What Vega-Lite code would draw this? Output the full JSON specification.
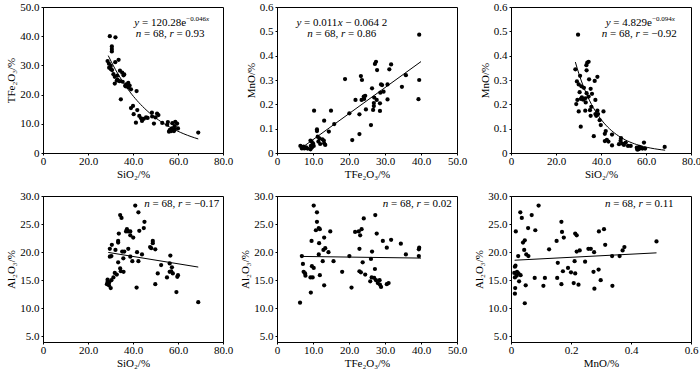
{
  "$schema": "https://vega.github.io/schema/vega-lite/v6.json",
  "padding": {"left": 5, "top": 0, "right": 0, "bottom": 2},
  "config": {
    "font": "Liberation Serif",
    "view": {"stroke": "black", "strokeWidth": 1},
    "axis": {"grid": false, "domainColor": "black", "tickColor": "black", "labelColor": "black", "titleColor": "black", "labelFontSize": 11, "titleFontSize": 11, "titleFontWeight": "normal", "tickSize": 2, "tickCount": 20, "labelFlush": false, "labelOverlap": false, "labelFont": "Liberation Serif", "titleFont": "Liberation Serif", "labelExpr": "datum.value == 0 ? '0' : format(datum.value, '.1f')"},
    "axisX": {"titlePadding": 2, "labelPadding": 0},
    "axisY": {"titlePadding": 3, "labelPadding": 2},
    "text": {"font": "Liberation Serif", "fontSize": 11, "color": "black", "align": "left", "baseline": "middle"},
    "point": {"filled": true, "color": "black", "size": 18, "opacity": 1},
    "line": {"color": "black", "strokeWidth": 1}
  },
  "datasets": {
    "one": [{}],
    "p1": [
      {"SiO2": 29.7, "TFe2O3": 40.0}, {"SiO2": 32.2, "TFe2O3": 39.6}, {"SiO2": 30.6, "TFe2O3": 36.5}, {"SiO2": 30.6, "TFe2O3": 35.6}, {"SiO2": 30.6, "TFe2O3": 34.8},
      {"SiO2": 28.7, "TFe2O3": 31.5}, {"SiO2": 33.6, "TFe2O3": 31.9}, {"SiO2": 32.1, "TFe2O3": 31.1}, {"SiO2": 29.3, "TFe2O3": 30.6}, {"SiO2": 30.1, "TFe2O3": 29.8},
      {"SiO2": 29.4, "TFe2O3": 29.2}, {"SiO2": 30.7, "TFe2O3": 28.4}, {"SiO2": 34.2, "TFe2O3": 28.2}, {"SiO2": 35.2, "TFe2O3": 27.5}, {"SiO2": 36.1, "TFe2O3": 26.9},
      {"SiO2": 31.3, "TFe2O3": 27.0}, {"SiO2": 31.9, "TFe2O3": 26.1}, {"SiO2": 33.1, "TFe2O3": 25.1}, {"SiO2": 34.0, "TFe2O3": 24.6}, {"SiO2": 31.9, "TFe2O3": 23.8},
      {"SiO2": 35.4, "TFe2O3": 24.4}, {"SiO2": 37.0, "TFe2O3": 23.5}, {"SiO2": 37.9, "TFe2O3": 24.0}, {"SiO2": 38.5, "TFe2O3": 23.1}, {"SiO2": 36.9, "TFe2O3": 22.8},
      {"SiO2": 39.1, "TFe2O3": 21.8}, {"SiO2": 41.6, "TFe2O3": 21.2}, {"SiO2": 34.6, "TFe2O3": 18.4}, {"SiO2": 39.1, "TFe2O3": 15.4}, {"SiO2": 40.0, "TFe2O3": 16.1},
      {"SiO2": 41.9, "TFe2O3": 14.7}, {"SiO2": 40.3, "TFe2O3": 13.3}, {"SiO2": 42.8, "TFe2O3": 12.7}, {"SiO2": 41.3, "TFe2O3": 10.4}, {"SiO2": 43.6, "TFe2O3": 11.9},
      {"SiO2": 44.8, "TFe2O3": 11.7}, {"SiO2": 45.8, "TFe2O3": 12.2}, {"SiO2": 48.4, "TFe2O3": 13.8}, {"SiO2": 50.0, "TFe2O3": 12.2}, {"SiO2": 50.7, "TFe2O3": 13.5},
      {"SiO2": 51.3, "TFe2O3": 13.0}, {"SiO2": 49.3, "TFe2O3": 10.1}, {"SiO2": 53.0, "TFe2O3": 10.3}, {"SiO2": 55.2, "TFe2O3": 9.7}, {"SiO2": 55.5, "TFe2O3": 10.6},
      {"SiO2": 58.5, "TFe2O3": 9.2}, {"SiO2": 57.3, "TFe2O3": 8.4}, {"SiO2": 57.8, "TFe2O3": 7.8}, {"SiO2": 58.2, "TFe2O3": 7.5}, {"SiO2": 57.0, "TFe2O3": 7.5},
      {"SiO2": 56.7, "TFe2O3": 8.0}, {"SiO2": 58.5, "TFe2O3": 8.0}, {"SiO2": 59.6, "TFe2O3": 10.1}, {"SiO2": 60.0, "TFe2O3": 8.4}, {"SiO2": 58.8, "TFe2O3": 10.7},
      {"SiO2": 69.0, "TFe2O3": 7.0}, {"SiO2": 30.2, "TFe2O3": 28.7}, {"SiO2": 32.8, "TFe2O3": 24.8}, {"SiO2": 36.5, "TFe2O3": 23.0}, {"SiO2": 38.0, "TFe2O3": 22.5},
      {"SiO2": 33.0, "TFe2O3": 26.5}, {"SiO2": 35.8, "TFe2O3": 26.6}, {"SiO2": 46.5, "TFe2O3": 12.0}, {"SiO2": 44.0, "TFe2O3": 11.0}, {"SiO2": 48.5, "TFe2O3": 12.5},
      {"SiO2": 56.3, "TFe2O3": 7.8}, {"SiO2": 57.5, "TFe2O3": 10.2}, {"SiO2": 56.0, "TFe2O3": 7.3}
    ],
    "p2": [
      {"TFe2O3": 6.5, "MnO": 0.029}, {"TFe2O3": 7.0, "MnO": 0.023}, {"TFe2O3": 7.6, "MnO": 0.019}, {"TFe2O3": 6.9, "MnO": 0.019}, {"TFe2O3": 8.1, "MnO": 0.023},
      {"TFe2O3": 7.4, "MnO": 0.026}, {"TFe2O3": 9.3, "MnO": 0.051}, {"TFe2O3": 9.6, "MnO": 0.047}, {"TFe2O3": 9.4, "MnO": 0.029}, {"TFe2O3": 9.7, "MnO": 0.023},
      {"TFe2O3": 10.2, "MnO": 0.029}, {"TFe2O3": 9.3, "MnO": 0.015}, {"TFe2O3": 10.3, "MnO": 0.174}, {"TFe2O3": 11.1, "MnO": 0.090}, {"TFe2O3": 11.1, "MnO": 0.097},
      {"TFe2O3": 11.3, "MnO": 0.067}, {"TFe2O3": 11.8, "MnO": 0.060}, {"TFe2O3": 11.5, "MnO": 0.047}, {"TFe2O3": 12.0, "MnO": 0.037}, {"TFe2O3": 12.6, "MnO": 0.056},
      {"TFe2O3": 13.0, "MnO": 0.051}, {"TFe2O3": 13.1, "MnO": 0.040}, {"TFe2O3": 13.4, "MnO": 0.033}, {"TFe2O3": 13.1, "MnO": 0.133}, {"TFe2O3": 14.4, "MnO": 0.088},
      {"TFe2O3": 15.0, "MnO": 0.174}, {"TFe2O3": 15.9, "MnO": 0.119}, {"TFe2O3": 18.9, "MnO": 0.304}, {"TFe2O3": 20.1, "MnO": 0.163}, {"TFe2O3": 20.9, "MnO": 0.053},
      {"TFe2O3": 21.8, "MnO": 0.218}, {"TFe2O3": 22.9, "MnO": 0.078}, {"TFe2O3": 22.9, "MnO": 0.159}, {"TFe2O3": 23.3, "MnO": 0.316}, {"TFe2O3": 23.6, "MnO": 0.300},
      {"TFe2O3": 23.5, "MnO": 0.218}, {"TFe2O3": 24.1, "MnO": 0.232}, {"TFe2O3": 24.7, "MnO": 0.179}, {"TFe2O3": 24.2, "MnO": 0.222}, {"TFe2O3": 26.1, "MnO": 0.115},
      {"TFe2O3": 26.4, "MnO": 0.266}, {"TFe2O3": 26.9, "MnO": 0.193}, {"TFe2O3": 26.7, "MnO": 0.177}, {"TFe2O3": 27.5, "MnO": 0.375}, {"TFe2O3": 27.2, "MnO": 0.366},
      {"TFe2O3": 27.8, "MnO": 0.341}, {"TFe2O3": 27.7, "MnO": 0.218}, {"TFe2O3": 28.7, "MnO": 0.248}, {"TFe2O3": 31.7, "MnO": 0.364}, {"TFe2O3": 31.2, "MnO": 0.344},
      {"TFe2O3": 35.8, "MnO": 0.320}, {"TFe2O3": 28.9, "MnO": 0.282}, {"TFe2O3": 29.2, "MnO": 0.279}, {"TFe2O3": 30.7, "MnO": 0.282}, {"TFe2O3": 29.6, "MnO": 0.252},
      {"TFe2O3": 34.7, "MnO": 0.272}, {"TFe2O3": 30.7, "MnO": 0.220}, {"TFe2O3": 28.6, "MnO": 0.204}, {"TFe2O3": 28.6, "MnO": 0.173}, {"TFe2O3": 39.5, "MnO": 0.486},
      {"TFe2O3": 39.5, "MnO": 0.300}, {"TFe2O3": 39.3, "MnO": 0.221}, {"TFe2O3": 27.0, "MnO": 0.228}, {"TFe2O3": 8.5, "MnO": 0.018}, {"TFe2O3": 24.5, "MnO": 0.235},
      {"TFe2O3": 10.0, "MnO": 0.040}, {"TFe2O3": 26.9, "MnO": 0.205}
    ],
    "p3": [
      {"SiO2": 29.8, "MnO": 0.486}, {"SiO2": 33.9, "MnO": 0.371}, {"SiO2": 34.5, "MnO": 0.375}, {"SiO2": 33.5, "MnO": 0.361}, {"SiO2": 33.6, "MnO": 0.340},
      {"SiO2": 28.6, "MnO": 0.344}, {"SiO2": 34.7, "MnO": 0.303}, {"SiO2": 37.2, "MnO": 0.296}, {"SiO2": 38.4, "MnO": 0.313}, {"SiO2": 30.7, "MnO": 0.317},
      {"SiO2": 29.3, "MnO": 0.294}, {"SiO2": 30.1, "MnO": 0.282}, {"SiO2": 31.3, "MnO": 0.274}, {"SiO2": 32.4, "MnO": 0.268}, {"SiO2": 35.4, "MnO": 0.264},
      {"SiO2": 30.5, "MnO": 0.250}, {"SiO2": 33.6, "MnO": 0.246}, {"SiO2": 31.5, "MnO": 0.229}, {"SiO2": 33.0, "MnO": 0.225}, {"SiO2": 31.1, "MnO": 0.222},
      {"SiO2": 32.1, "MnO": 0.219}, {"SiO2": 34.5, "MnO": 0.232}, {"SiO2": 36.0, "MnO": 0.243}, {"SiO2": 37.5, "MnO": 0.218}, {"SiO2": 29.5, "MnO": 0.218},
      {"SiO2": 29.0, "MnO": 0.201}, {"SiO2": 33.2, "MnO": 0.208}, {"SiO2": 35.7, "MnO": 0.190}, {"SiO2": 35.1, "MnO": 0.176}, {"SiO2": 30.1, "MnO": 0.171},
      {"SiO2": 33.0, "MnO": 0.174}, {"SiO2": 38.4, "MnO": 0.174}, {"SiO2": 41.1, "MnO": 0.171}, {"SiO2": 37.5, "MnO": 0.160}, {"SiO2": 35.4, "MnO": 0.153},
      {"SiO2": 38.7, "MnO": 0.160}, {"SiO2": 37.9, "MnO": 0.153}, {"SiO2": 39.4, "MnO": 0.135}, {"SiO2": 39.9, "MnO": 0.115}, {"SiO2": 31.0, "MnO": 0.108},
      {"SiO2": 42.1, "MnO": 0.090}, {"SiO2": 41.7, "MnO": 0.079}, {"SiO2": 36.8, "MnO": 0.069}, {"SiO2": 44.9, "MnO": 0.076}, {"SiO2": 41.7, "MnO": 0.049},
      {"SiO2": 42.6, "MnO": 0.054}, {"SiO2": 43.3, "MnO": 0.047}, {"SiO2": 44.9, "MnO": 0.031}, {"SiO2": 48.7, "MnO": 0.050}, {"SiO2": 48.9, "MnO": 0.061},
      {"SiO2": 51.0, "MnO": 0.043}, {"SiO2": 50.2, "MnO": 0.033}, {"SiO2": 52.0, "MnO": 0.029}, {"SiO2": 53.2, "MnO": 0.029}, {"SiO2": 49.5, "MnO": 0.039},
      {"SiO2": 48.0, "MnO": 0.036}, {"SiO2": 55.9, "MnO": 0.022}, {"SiO2": 56.6, "MnO": 0.015}, {"SiO2": 57.2, "MnO": 0.018}, {"SiO2": 57.8, "MnO": 0.022},
      {"SiO2": 58.4, "MnO": 0.018}, {"SiO2": 59.1, "MnO": 0.043}, {"SiO2": 59.6, "MnO": 0.018}, {"SiO2": 56.1, "MnO": 0.014}, {"SiO2": 68.3, "MnO": 0.025},
      {"SiO2": 57.0, "MnO": 0.025}
    ],
    "p4": [
      {"SiO2": 41.0, "Al2O3": 28.3}, {"SiO2": 42.4, "Al2O3": 27.1}, {"SiO2": 34.3, "Al2O3": 26.6}, {"SiO2": 34.9, "Al2O3": 26.1}, {"SiO2": 45.1, "Al2O3": 25.4},
      {"SiO2": 44.8, "Al2O3": 24.3}, {"SiO2": 42.8, "Al2O3": 23.8}, {"SiO2": 37.3, "Al2O3": 24.1}, {"SiO2": 37.9, "Al2O3": 23.7}, {"SiO2": 38.8, "Al2O3": 23.7},
      {"SiO2": 36.9, "Al2O3": 23.7}, {"SiO2": 38.8, "Al2O3": 23.0}, {"SiO2": 40.1, "Al2O3": 22.6}, {"SiO2": 33.7, "Al2O3": 23.3}, {"SiO2": 33.4, "Al2O3": 22.0},
      {"SiO2": 33.4, "Al2O3": 21.7}, {"SiO2": 30.6, "Al2O3": 21.3}, {"SiO2": 29.7, "Al2O3": 20.6}, {"SiO2": 32.2, "Al2O3": 20.4}, {"SiO2": 35.2, "Al2O3": 20.1},
      {"SiO2": 36.1, "Al2O3": 20.1}, {"SiO2": 37.9, "Al2O3": 20.6}, {"SiO2": 41.8, "Al2O3": 20.0}, {"SiO2": 29.7, "Al2O3": 19.2}, {"SiO2": 30.4, "Al2O3": 19.3},
      {"SiO2": 33.4, "Al2O3": 18.2}, {"SiO2": 35.7, "Al2O3": 18.9}, {"SiO2": 38.8, "Al2O3": 19.2}, {"SiO2": 39.7, "Al2O3": 18.4}, {"SiO2": 42.4, "Al2O3": 18.4},
      {"SiO2": 44.0, "Al2O3": 19.6}, {"SiO2": 31.9, "Al2O3": 16.3}, {"SiO2": 32.8, "Al2O3": 16.0}, {"SiO2": 34.3, "Al2O3": 17.1}, {"SiO2": 34.6, "Al2O3": 16.6},
      {"SiO2": 35.8, "Al2O3": 16.5}, {"SiO2": 31.3, "Al2O3": 15.5}, {"SiO2": 30.4, "Al2O3": 15.0}, {"SiO2": 28.7, "Al2O3": 14.7}, {"SiO2": 29.4, "Al2O3": 14.6},
      {"SiO2": 28.4, "Al2O3": 14.3}, {"SiO2": 29.3, "Al2O3": 14.1}, {"SiO2": 30.1, "Al2O3": 13.6}, {"SiO2": 28.7, "Al2O3": 15.1}, {"SiO2": 41.6, "Al2O3": 13.7},
      {"SiO2": 47.6, "Al2O3": 20.9}, {"SiO2": 48.8, "Al2O3": 22.0}, {"SiO2": 48.8, "Al2O3": 21.6}, {"SiO2": 49.9, "Al2O3": 20.5}, {"SiO2": 49.9, "Al2O3": 14.3},
      {"SiO2": 51.0, "Al2O3": 16.2}, {"SiO2": 52.5, "Al2O3": 17.7}, {"SiO2": 55.1, "Al2O3": 15.5}, {"SiO2": 56.3, "Al2O3": 18.0}, {"SiO2": 56.6, "Al2O3": 19.4},
      {"SiO2": 57.0, "Al2O3": 16.6}, {"SiO2": 57.3, "Al2O3": 17.3}, {"SiO2": 57.7, "Al2O3": 16.2}, {"SiO2": 56.3, "Al2O3": 16.5}, {"SiO2": 59.7, "Al2O3": 15.6},
      {"SiO2": 60.0, "Al2O3": 15.9}, {"SiO2": 59.3, "Al2O3": 12.9}, {"SiO2": 69.0, "Al2O3": 11.1}, {"SiO2": 48.1, "Al2O3": 20.7}
    ],
    "p5": [
      {"TFe2O3": 10.2, "Al2O3": 28.3}, {"TFe2O3": 11.1, "Al2O3": 27.1}, {"TFe2O3": 11.1, "Al2O3": 25.4}, {"TFe2O3": 11.6, "Al2O3": 24.3}, {"TFe2O3": 11.9, "Al2O3": 24.1},
      {"TFe2O3": 10.8, "Al2O3": 23.9}, {"TFe2O3": 14.8, "Al2O3": 23.7}, {"TFe2O3": 9.6, "Al2O3": 22.0}, {"TFe2O3": 11.7, "Al2O3": 21.6}, {"TFe2O3": 13.1, "Al2O3": 22.6},
      {"TFe2O3": 13.4, "Al2O3": 20.7}, {"TFe2O3": 12.9, "Al2O3": 20.4}, {"TFe2O3": 14.3, "Al2O3": 20.0}, {"TFe2O3": 11.6, "Al2O3": 19.6}, {"TFe2O3": 6.9, "Al2O3": 19.3},
      {"TFe2O3": 12.7, "Al2O3": 18.4}, {"TFe2O3": 15.7, "Al2O3": 18.4}, {"TFe2O3": 7.2, "Al2O3": 17.9}, {"TFe2O3": 9.7, "Al2O3": 17.5}, {"TFe2O3": 10.2, "Al2O3": 17.2},
      {"TFe2O3": 7.4, "Al2O3": 16.5}, {"TFe2O3": 7.8, "Al2O3": 16.2}, {"TFe2O3": 7.9, "Al2O3": 15.8}, {"TFe2O3": 11.9, "Al2O3": 15.9}, {"TFe2O3": 9.3, "Al2O3": 15.5},
      {"TFe2O3": 9.9, "Al2O3": 15.5}, {"TFe2O3": 13.1, "Al2O3": 14.1}, {"TFe2O3": 9.4, "Al2O3": 12.8}, {"TFe2O3": 6.4, "Al2O3": 11.0}, {"TFe2O3": 18.1, "Al2O3": 16.5},
      {"TFe2O3": 20.1, "Al2O3": 19.3}, {"TFe2O3": 20.7, "Al2O3": 13.7}, {"TFe2O3": 21.7, "Al2O3": 23.6}, {"TFe2O3": 22.7, "Al2O3": 23.7}, {"TFe2O3": 23.1, "Al2O3": 23.0},
      {"TFe2O3": 23.5, "Al2O3": 24.1}, {"TFe2O3": 24.1, "Al2O3": 26.0}, {"TFe2O3": 22.9, "Al2O3": 20.6}, {"TFe2O3": 23.8, "Al2O3": 18.2}, {"TFe2O3": 22.9, "Al2O3": 16.6},
      {"TFe2O3": 23.3, "Al2O3": 16.4}, {"TFe2O3": 24.5, "Al2O3": 16.0}, {"TFe2O3": 27.3, "Al2O3": 26.6}, {"TFe2O3": 27.7, "Al2O3": 23.3}, {"TFe2O3": 26.4, "Al2O3": 20.1},
      {"TFe2O3": 26.1, "Al2O3": 18.8}, {"TFe2O3": 27.2, "Al2O3": 17.0}, {"TFe2O3": 26.3, "Al2O3": 15.5}, {"TFe2O3": 25.9, "Al2O3": 14.8}, {"TFe2O3": 27.0, "Al2O3": 15.4},
      {"TFe2O3": 27.5, "Al2O3": 15.0}, {"TFe2O3": 28.5, "Al2O3": 15.0}, {"TFe2O3": 28.6, "Al2O3": 14.2}, {"TFe2O3": 28.9, "Al2O3": 13.8}, {"TFe2O3": 28.0, "Al2O3": 14.5},
      {"TFe2O3": 29.4, "Al2O3": 22.0}, {"TFe2O3": 30.5, "Al2O3": 20.8}, {"TFe2O3": 31.7, "Al2O3": 22.2}, {"TFe2O3": 30.5, "Al2O3": 14.3}, {"TFe2O3": 31.0, "Al2O3": 14.5},
      {"TFe2O3": 34.4, "Al2O3": 21.5}, {"TFe2O3": 35.8, "Al2O3": 19.6}, {"TFe2O3": 39.4, "Al2O3": 20.5}, {"TFe2O3": 39.5, "Al2O3": 20.8}, {"TFe2O3": 39.4, "Al2O3": 19.3}
    ],
    "p6": [
      {"MnO": 0.092, "Al2O3": 28.3}, {"MnO": 0.031, "Al2O3": 27.1}, {"MnO": 0.036, "Al2O3": 26.1}, {"MnO": 0.069, "Al2O3": 26.6}, {"MnO": 0.016, "Al2O3": 23.7},
      {"MnO": 0.057, "Al2O3": 24.3}, {"MnO": 0.081, "Al2O3": 23.9}, {"MnO": 0.046, "Al2O3": 22.1}, {"MnO": 0.040, "Al2O3": 21.7}, {"MnO": 0.044, "Al2O3": 20.4},
      {"MnO": 0.051, "Al2O3": 19.6}, {"MnO": 0.058, "Al2O3": 19.3}, {"MnO": 0.024, "Al2O3": 19.3}, {"MnO": 0.015, "Al2O3": 17.6}, {"MnO": 0.013, "Al2O3": 17.4},
      {"MnO": 0.020, "Al2O3": 16.5}, {"MnO": 0.011, "Al2O3": 16.3}, {"MnO": 0.025, "Al2O3": 16.2}, {"MnO": 0.032, "Al2O3": 15.9}, {"MnO": 0.019, "Al2O3": 15.8},
      {"MnO": 0.013, "Al2O3": 15.5}, {"MnO": 0.027, "Al2O3": 14.8}, {"MnO": 0.014, "Al2O3": 13.6}, {"MnO": 0.013, "Al2O3": 12.6}, {"MnO": 0.046, "Al2O3": 10.9},
      {"MnO": 0.049, "Al2O3": 14.1}, {"MnO": 0.079, "Al2O3": 15.4}, {"MnO": 0.108, "Al2O3": 14.0}, {"MnO": 0.113, "Al2O3": 15.4}, {"MnO": 0.127, "Al2O3": 20.5},
      {"MnO": 0.154, "Al2O3": 15.4}, {"MnO": 0.156, "Al2O3": 18.1}, {"MnO": 0.152, "Al2O3": 22.0}, {"MnO": 0.168, "Al2O3": 25.4}, {"MnO": 0.170, "Al2O3": 23.6},
      {"MnO": 0.176, "Al2O3": 22.6}, {"MnO": 0.168, "Al2O3": 14.3}, {"MnO": 0.173, "Al2O3": 16.6}, {"MnO": 0.190, "Al2O3": 17.2}, {"MnO": 0.200, "Al2O3": 16.4},
      {"MnO": 0.212, "Al2O3": 18.4}, {"MnO": 0.214, "Al2O3": 23.3}, {"MnO": 0.219, "Al2O3": 23.0}, {"MnO": 0.214, "Al2O3": 16.2}, {"MnO": 0.209, "Al2O3": 14.5},
      {"MnO": 0.225, "Al2O3": 14.2}, {"MnO": 0.219, "Al2O3": 20.1}, {"MnO": 0.229, "Al2O3": 20.3}, {"MnO": 0.247, "Al2O3": 18.3}, {"MnO": 0.258, "Al2O3": 20.6},
      {"MnO": 0.266, "Al2O3": 20.6}, {"MnO": 0.277, "Al2O3": 20.0}, {"MnO": 0.275, "Al2O3": 16.5}, {"MnO": 0.278, "Al2O3": 13.5}, {"MnO": 0.292, "Al2O3": 16.9},
      {"MnO": 0.299, "Al2O3": 15.0}, {"MnO": 0.293, "Al2O3": 23.7}, {"MnO": 0.310, "Al2O3": 24.1}, {"MnO": 0.314, "Al2O3": 21.3}, {"MnO": 0.337, "Al2O3": 19.3},
      {"MnO": 0.338, "Al2O3": 14.0}, {"MnO": 0.362, "Al2O3": 19.3}, {"MnO": 0.372, "Al2O3": 20.3}, {"MnO": 0.378, "Al2O3": 20.9}, {"MnO": 0.485, "Al2O3": 21.9}
    ]
  },
  "columns": 3,
  "spacing": {"row": 43, "column": 54},
  "bounds": "flush",
  "concat": [
    {
      "width": 180, "height": 146,
      "layer": [
        {"data": {"name": "p1"}, "mark": "point",
         "encoding": {
           "x": {"field": "SiO2", "type": "quantitative", "scale": {"domain": [0, 80]}, "axis": {"values": [0, 20, 40, 60, 80], "title": "SiO₂/%"}},
           "y": {"field": "TFe2O3", "type": "quantitative", "scale": {"domain": [0, 50]}, "axis": {"values": [0, 10, 20, 30, 40, 50], "title": "TFe₂O₃/%"}}}},
        {"data": {"name": "p1"}, "transform": [{"regression": "TFe2O3", "on": "SiO2", "method": "exp", "extent": [29, 69]}], "mark": "line",
         "encoding": {"x": {"field": "SiO2", "type": "quantitative"}, "y": {"field": "TFe2O3", "type": "quantitative"}}},
        {"data": {"name": "one"}, "mark": {"type": "text", "text": "y", "fontStyle": "italic", "dx": 0},
         "encoding": {"x": {"datum": 40.6, "type": "quantitative"}, "y": {"datum": 44.6, "type": "quantitative"}}},
        {"data": {"name": "one"}, "mark": {"type": "text", "text": "= 120.28e", "dx": 7.6},
         "encoding": {"x": {"datum": 40.6, "type": "quantitative"}, "y": {"datum": 44.6, "type": "quantitative"}}},
        {"data": {"name": "one"}, "mark": {"type": "text", "text": "−0.046", "fontSize": 7, "dx": 51.9, "dy": -4},
         "encoding": {"x": {"datum": 40.6, "type": "quantitative"}, "y": {"datum": 44.6, "type": "quantitative"}}},
        {"data": {"name": "one"}, "mark": {"type": "text", "text": "x", "fontStyle": "italic", "fontSize": 7, "dx": 71.6, "dy": -4},
         "encoding": {"x": {"datum": 40.6, "type": "quantitative"}, "y": {"datum": 44.6, "type": "quantitative"}}},
        {"data": {"name": "one"}, "mark": {"type": "text", "text": "n", "fontStyle": "italic", "dx": 0},
         "encoding": {"x": {"datum": 41.2, "type": "quantitative"}, "y": {"datum": 40.8, "type": "quantitative"}}},
        {"data": {"name": "one"}, "mark": {"type": "text", "text": "= 68,", "dx": 8.25},
         "encoding": {"x": {"datum": 41.2, "type": "quantitative"}, "y": {"datum": 40.8, "type": "quantitative"}}},
        {"data": {"name": "one"}, "mark": {"type": "text", "text": "r", "fontStyle": "italic", "dx": 33.7},
         "encoding": {"x": {"datum": 41.2, "type": "quantitative"}, "y": {"datum": 40.8, "type": "quantitative"}}},
        {"data": {"name": "one"}, "mark": {"type": "text", "text": "= 0.93", "dx": 40.7},
         "encoding": {"x": {"datum": 41.2, "type": "quantitative"}, "y": {"datum": 40.8, "type": "quantitative"}}}
      ]
    },
    {
      "width": 180, "height": 146,
      "layer": [
        {"data": {"name": "p2"}, "mark": "point",
         "encoding": {
           "x": {"field": "TFe2O3", "type": "quantitative", "scale": {"domain": [0, 50]}, "axis": {"values": [0, 10, 20, 30, 40, 50], "title": "TFe₂O₃/%"}},
           "y": {"field": "MnO", "type": "quantitative", "scale": {"domain": [0, 0.6]}, "axis": {"values": [0, 0.1, 0.2, 0.3, 0.4, 0.5, 0.6], "title": "MnO/%"}}}},
        {"data": {"name": "p2"}, "transform": [{"regression": "MnO", "on": "TFe2O3", "method": "linear", "extent": [7, 40]}], "mark": "line",
         "encoding": {"x": {"field": "TFe2O3", "type": "quantitative"}, "y": {"field": "MnO", "type": "quantitative"}}},
        {"data": {"name": "one"}, "mark": {"type": "text", "text": "y", "fontStyle": "italic", "dx": 0},
         "encoding": {"x": {"datum": 5.4, "type": "quantitative"}, "y": {"datum": 0.535, "type": "quantitative"}}},
        {"data": {"name": "one"}, "mark": {"type": "text", "text": "= 0.011", "dx": 7.6},
         "encoding": {"x": {"datum": 5.4, "type": "quantitative"}, "y": {"datum": 0.535, "type": "quantitative"}}},
        {"data": {"name": "one"}, "mark": {"type": "text", "text": "x", "fontStyle": "italic", "dx": 41.3},
         "encoding": {"x": {"datum": 5.4, "type": "quantitative"}, "y": {"datum": 0.535, "type": "quantitative"}}},
        {"data": {"name": "one"}, "mark": {"type": "text", "text": "− 0.064 2", "dx": 48.9},
         "encoding": {"x": {"datum": 5.4, "type": "quantitative"}, "y": {"datum": 0.535, "type": "quantitative"}}},
        {"data": {"name": "one"}, "mark": {"type": "text", "text": "n", "fontStyle": "italic", "dx": 0},
         "encoding": {"x": {"datum": 8.4, "type": "quantitative"}, "y": {"datum": 0.489, "type": "quantitative"}}},
        {"data": {"name": "one"}, "mark": {"type": "text", "text": "= 68,", "dx": 8.25},
         "encoding": {"x": {"datum": 8.4, "type": "quantitative"}, "y": {"datum": 0.489, "type": "quantitative"}}},
        {"data": {"name": "one"}, "mark": {"type": "text", "text": "r", "fontStyle": "italic", "dx": 33.7},
         "encoding": {"x": {"datum": 8.4, "type": "quantitative"}, "y": {"datum": 0.489, "type": "quantitative"}}},
        {"data": {"name": "one"}, "mark": {"type": "text", "text": "= 0.86", "dx": 40.7},
         "encoding": {"x": {"datum": 8.4, "type": "quantitative"}, "y": {"datum": 0.489, "type": "quantitative"}}}
      ]
    },
    {
      "width": 180, "height": 146,
      "layer": [
        {"data": {"name": "p3"}, "mark": "point",
         "encoding": {
           "x": {"field": "SiO2", "type": "quantitative", "scale": {"domain": [0, 80]}, "axis": {"values": [0, 20, 40, 60, 80], "title": "SiO₂/%"}},
           "y": {"field": "MnO", "type": "quantitative", "scale": {"domain": [0, 0.6]}, "axis": {"values": [0, 0.1, 0.2, 0.3, 0.4, 0.5, 0.6], "title": "MnO/%"}}}},
        {"data": {"name": "p3"}, "transform": [{"regression": "MnO", "on": "SiO2", "method": "exp", "extent": [28.6, 68.5]}], "mark": "line",
         "encoding": {"x": {"field": "SiO2", "type": "quantitative"}, "y": {"field": "MnO", "type": "quantitative"}}},
        {"data": {"name": "one"}, "mark": {"type": "text", "text": "y", "fontStyle": "italic", "dx": 0},
         "encoding": {"x": {"datum": 42.1, "type": "quantitative"}, "y": {"datum": 0.535, "type": "quantitative"}}},
        {"data": {"name": "one"}, "mark": {"type": "text", "text": "= 4.829e", "dx": 7.6},
         "encoding": {"x": {"datum": 42.1, "type": "quantitative"}, "y": {"datum": 0.535, "type": "quantitative"}}},
        {"data": {"name": "one"}, "mark": {"type": "text", "text": "−0.094", "fontSize": 7, "dx": 46.4, "dy": -4},
         "encoding": {"x": {"datum": 42.1, "type": "quantitative"}, "y": {"datum": 0.535, "type": "quantitative"}}},
        {"data": {"name": "one"}, "mark": {"type": "text", "text": "x", "fontStyle": "italic", "fontSize": 7, "dx": 66.1, "dy": -4},
         "encoding": {"x": {"datum": 42.1, "type": "quantitative"}, "y": {"datum": 0.535, "type": "quantitative"}}},
        {"data": {"name": "one"}, "mark": {"type": "text", "text": "n", "fontStyle": "italic", "dx": 0},
         "encoding": {"x": {"datum": 40.3, "type": "quantitative"}, "y": {"datum": 0.489, "type": "quantitative"}}},
        {"data": {"name": "one"}, "mark": {"type": "text", "text": "= 68,", "dx": 8.25},
         "encoding": {"x": {"datum": 40.3, "type": "quantitative"}, "y": {"datum": 0.489, "type": "quantitative"}}},
        {"data": {"name": "one"}, "mark": {"type": "text", "text": "r", "fontStyle": "italic", "dx": 33.7},
         "encoding": {"x": {"datum": 40.3, "type": "quantitative"}, "y": {"datum": 0.489, "type": "quantitative"}}},
        {"data": {"name": "one"}, "mark": {"type": "text", "text": "= −0.92", "dx": 40.7},
         "encoding": {"x": {"datum": 40.3, "type": "quantitative"}, "y": {"datum": 0.489, "type": "quantitative"}}}
      ]
    },
    {
      "width": 180, "height": 146,
      "layer": [
        {"data": {"name": "p4"}, "mark": "point",
         "encoding": {
           "x": {"field": "SiO2", "type": "quantitative", "scale": {"domain": [0, 80]}, "axis": {"values": [0, 20, 40, 60, 80], "title": "SiO₂/%"}},
           "y": {"field": "Al2O3", "type": "quantitative", "scale": {"domain": [5, 30], "zero": false}, "axis": {"values": [5, 10, 15, 20, 25, 30], "title": "Al₂O₃/%"}}}},
        {"data": {"name": "p4"}, "transform": [{"regression": "Al2O3", "on": "SiO2", "method": "linear", "extent": [29, 69]}], "mark": "line",
         "encoding": {"x": {"field": "SiO2", "type": "quantitative"}, "y": {"field": "Al2O3", "type": "quantitative"}}},
        {"data": {"name": "one"}, "mark": {"type": "text", "text": "n", "fontStyle": "italic", "dx": 0},
         "encoding": {"x": {"datum": 45.0, "type": "quantitative"}, "y": {"datum": 28.5, "type": "quantitative"}}},
        {"data": {"name": "one"}, "mark": {"type": "text", "text": "= 68,", "dx": 8.25},
         "encoding": {"x": {"datum": 45.0, "type": "quantitative"}, "y": {"datum": 28.5, "type": "quantitative"}}},
        {"data": {"name": "one"}, "mark": {"type": "text", "text": "r", "fontStyle": "italic", "dx": 33.7},
         "encoding": {"x": {"datum": 45.0, "type": "quantitative"}, "y": {"datum": 28.5, "type": "quantitative"}}},
        {"data": {"name": "one"}, "mark": {"type": "text", "text": "= −0.17", "dx": 40.7},
         "encoding": {"x": {"datum": 45.0, "type": "quantitative"}, "y": {"datum": 28.5, "type": "quantitative"}}}
      ]
    },
    {
      "width": 180, "height": 146,
      "layer": [
        {"data": {"name": "p5"}, "mark": "point",
         "encoding": {
           "x": {"field": "TFe2O3", "type": "quantitative", "scale": {"domain": [0, 50]}, "axis": {"values": [0, 10, 20, 30, 40, 50], "title": "TFe₂O₃/%"}},
           "y": {"field": "Al2O3", "type": "quantitative", "scale": {"domain": [5, 30], "zero": false}, "axis": {"values": [5, 10, 15, 20, 25, 30], "title": "Al₂O₃/%"}}}},
        {"data": {"name": "p5"}, "transform": [{"regression": "Al2O3", "on": "TFe2O3", "method": "linear", "extent": [7, 40]}], "mark": "line",
         "encoding": {"x": {"field": "TFe2O3", "type": "quantitative"}, "y": {"field": "Al2O3", "type": "quantitative"}}},
        {"data": {"name": "one"}, "mark": {"type": "text", "text": "n", "fontStyle": "italic", "dx": 0},
         "encoding": {"x": {"datum": 29.4, "type": "quantitative"}, "y": {"datum": 28.5, "type": "quantitative"}}},
        {"data": {"name": "one"}, "mark": {"type": "text", "text": "= 68,", "dx": 8.25},
         "encoding": {"x": {"datum": 29.4, "type": "quantitative"}, "y": {"datum": 28.5, "type": "quantitative"}}},
        {"data": {"name": "one"}, "mark": {"type": "text", "text": "r", "fontStyle": "italic", "dx": 33.7},
         "encoding": {"x": {"datum": 29.4, "type": "quantitative"}, "y": {"datum": 28.5, "type": "quantitative"}}},
        {"data": {"name": "one"}, "mark": {"type": "text", "text": "= 0.02", "dx": 40.7},
         "encoding": {"x": {"datum": 29.4, "type": "quantitative"}, "y": {"datum": 28.5, "type": "quantitative"}}}
      ]
    },
    {
      "width": 180, "height": 146,
      "layer": [
        {"data": {"name": "p6"}, "mark": "point",
         "encoding": {
           "x": {"field": "MnO", "type": "quantitative", "scale": {"domain": [0, 0.6]}, "axis": {"values": [0, 0.2, 0.4, 0.6], "title": "MnO/%"}},
           "y": {"field": "Al2O3", "type": "quantitative", "scale": {"domain": [5, 30], "zero": false}, "axis": {"values": [5, 10, 15, 20, 25, 30], "title": "Al₂O₃/%"}}}},
        {"data": {"name": "p6"}, "transform": [{"regression": "Al2O3", "on": "MnO", "method": "linear", "extent": [0.012, 0.485]}], "mark": "line",
         "encoding": {"x": {"field": "MnO", "type": "quantitative"}, "y": {"field": "Al2O3", "type": "quantitative"}}},
        {"data": {"name": "one"}, "mark": {"type": "text", "text": "n", "fontStyle": "italic", "dx": 0},
         "encoding": {"x": {"datum": 0.313, "type": "quantitative"}, "y": {"datum": 28.5, "type": "quantitative"}}},
        {"data": {"name": "one"}, "mark": {"type": "text", "text": "= 68,", "dx": 8.25},
         "encoding": {"x": {"datum": 0.313, "type": "quantitative"}, "y": {"datum": 28.5, "type": "quantitative"}}},
        {"data": {"name": "one"}, "mark": {"type": "text", "text": "r", "fontStyle": "italic", "dx": 33.7},
         "encoding": {"x": {"datum": 0.313, "type": "quantitative"}, "y": {"datum": 28.5, "type": "quantitative"}}},
        {"data": {"name": "one"}, "mark": {"type": "text", "text": "= 0.11", "dx": 40.7},
         "encoding": {"x": {"datum": 0.313, "type": "quantitative"}, "y": {"datum": 28.5, "type": "quantitative"}}}
      ]
    }
  ]
}
